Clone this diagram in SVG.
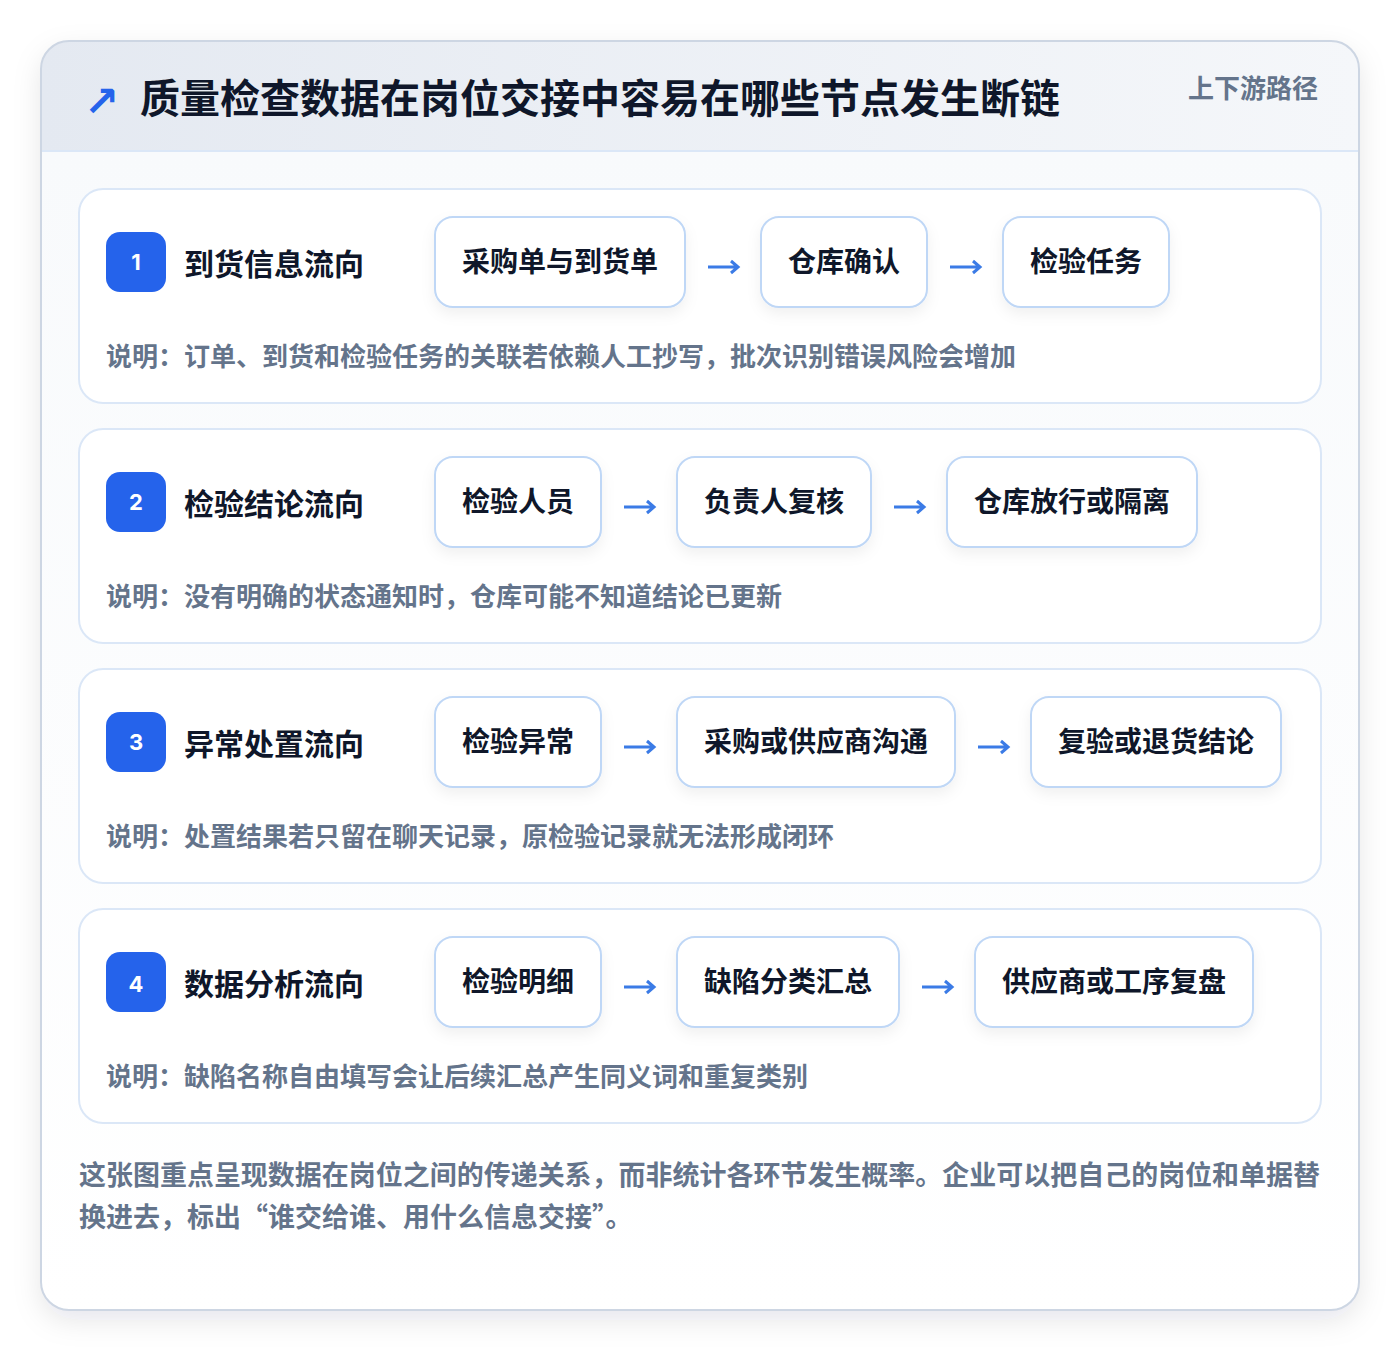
<svg xmlns="http://www.w3.org/2000/svg" width="1400" height="1352" viewBox="0 0 1400 1352">
<style>
.cjk{font-family:"Noto Sans CJK SC","Noto Sans",sans-serif;font-weight:700}
.title{font-size:40px;fill:#0f172a}
.tag{font-size:26px;fill:#64748b}
.sec{fill:#ffffff;stroke:#dbe7f7;stroke-width:2}
.badge{fill:#2563eb}
.num{font-family:"Inter","Liberation Sans",sans-serif;font-weight:700;font-size:22px;fill:#ffffff}
.lbl{font-size:30px;fill:#0f172a}
.node rect{fill:#ffffff;stroke:#bfd7f6;stroke-width:2}
.ntxt{font-size:28px;fill:#0f172a}
.note{font-size:26px;fill:#64748b}
.foot{font-size:27px;fill:#64748b}
.conn path{fill:none;stroke:#3b7be6;stroke-width:3;stroke-linecap:butt}
</style>
<defs>
<linearGradient id="hdr" x1="0" y1="0" x2="1" y2="0">
<stop offset="0" stop-color="#e4e9f1"/>
<stop offset="1" stop-color="#f5f7fa"/>
</linearGradient>
<linearGradient id="body" x1="0" y1="0" x2="0" y2="1">
<stop offset="0" stop-color="#f8fafc"/>
<stop offset="1" stop-color="#ffffff"/>
</linearGradient>
<clipPath id="cardclip"><rect x="41" y="41" width="1318" height="1269" rx="28"/></clipPath>
<filter id="cardsh" x="-10%" y="-10%" width="120%" height="120%">
<feDropShadow dx="0" dy="10" stdDeviation="14" flood-color="#0f172a" flood-opacity="0.10"/>
</filter>
<filter id="nodesh" x="-20%" y="-30%" width="140%" height="170%">
<feDropShadow dx="0" dy="6" stdDeviation="7" flood-color="#0f172a" flood-opacity="0.06"/>
</filter>
</defs>
<rect width="1400" height="1352" fill="#ffffff"/>
<g id="card">
<rect x="41" y="41" width="1318" height="1269" rx="28" fill="#fafbfd" filter="url(#cardsh)"/>
<g clip-path="url(#cardclip)">
<rect x="41" y="152" width="1318" height="1160" fill="url(#body)"/>
<rect x="41" y="41" width="1318" height="110" fill="url(#hdr)"/>
<line x1="41" y1="151" x2="1359" y2="151" stroke="#dbe7f7" stroke-width="2"/>
</g>
<rect x="41" y="41" width="1318" height="1269" rx="28" fill="none" stroke="#cdd6e3" stroke-width="2"/>
</g>
<g id="header">
<text x="84" y="116" font-family="DejaVu Sans,sans-serif" font-size="42" font-weight="700" fill="#2563eb">↗</text>
<text class="cjk title" x="140" y="113">质量检查数据在岗位交接中容易在哪些节点发生断链</text>
<text class="cjk tag" x="1318" y="98" text-anchor="end">上下游路径</text>
</g>

<g id="section1">
<rect class="sec" x="79" y="189" width="1242" height="214" rx="24"/>
<rect class="badge" x="106" y="232" width="60" height="60" rx="14"/>
<text class="num" x="136" y="270" text-anchor="middle">1</text>
<text class="cjk lbl" x="184" y="275">到货信息流向</text>
<text class="cjk note" x="106" y="366">说明：订单、到货和检验任务的关联若依赖人工抄写，批次识别错误风险会增加</text>
</g>
<g id="n1a" class="node"><rect x="435" y="217" width="250" height="90" rx="18" filter="url(#nodesh)"/><text class="cjk ntxt" x="560" y="272" text-anchor="middle">采购单与到货单</text></g>
<g id="n1b" class="node"><rect x="761" y="217" width="166" height="90" rx="18" filter="url(#nodesh)"/><text class="cjk ntxt" x="844" y="272" text-anchor="middle">仓库确认</text></g>
<g id="n1c" class="node"><rect x="1003" y="217" width="166" height="90" rx="18" filter="url(#nodesh)"/><text class="cjk ntxt" x="1086" y="272" text-anchor="middle">检验任务</text></g>

<g id="section2">
<rect class="sec" x="79" y="429" width="1242" height="214" rx="24"/>
<rect class="badge" x="106" y="472" width="60" height="60" rx="14"/>
<text class="num" x="136" y="510" text-anchor="middle">2</text>
<text class="cjk lbl" x="184" y="515">检验结论流向</text>
<text class="cjk note" x="106" y="606">说明：没有明确的状态通知时，仓库可能不知道结论已更新</text>
</g>
<g id="n2a" class="node"><rect x="435" y="457" width="166" height="90" rx="18" filter="url(#nodesh)"/><text class="cjk ntxt" x="518" y="512" text-anchor="middle">检验人员</text></g>
<g id="n2b" class="node"><rect x="677" y="457" width="194" height="90" rx="18" filter="url(#nodesh)"/><text class="cjk ntxt" x="774" y="512" text-anchor="middle">负责人复核</text></g>
<g id="n2c" class="node"><rect x="947" y="457" width="250" height="90" rx="18" filter="url(#nodesh)"/><text class="cjk ntxt" x="1072" y="512" text-anchor="middle">仓库放行或隔离</text></g>

<g id="section3">
<rect class="sec" x="79" y="669" width="1242" height="214" rx="24"/>
<rect class="badge" x="106" y="712" width="60" height="60" rx="14"/>
<text class="num" x="136" y="750" text-anchor="middle">3</text>
<text class="cjk lbl" x="184" y="755">异常处置流向</text>
<text class="cjk note" x="106" y="846">说明：处置结果若只留在聊天记录，原检验记录就无法形成闭环</text>
</g>
<g id="n3a" class="node"><rect x="435" y="697" width="166" height="90" rx="18" filter="url(#nodesh)"/><text class="cjk ntxt" x="518" y="752" text-anchor="middle">检验异常</text></g>
<g id="n3b" class="node"><rect x="677" y="697" width="278" height="90" rx="18" filter="url(#nodesh)"/><text class="cjk ntxt" x="816" y="752" text-anchor="middle">采购或供应商沟通</text></g>
<g id="n3c" class="node"><rect x="1031" y="697" width="250" height="90" rx="18" filter="url(#nodesh)"/><text class="cjk ntxt" x="1156" y="752" text-anchor="middle">复验或退货结论</text></g>

<g id="section4">
<rect class="sec" x="79" y="909" width="1242" height="214" rx="24"/>
<rect class="badge" x="106" y="952" width="60" height="60" rx="14"/>
<text class="num" x="136" y="992" text-anchor="middle">4</text>
<text class="cjk lbl" x="184" y="995">数据分析流向</text>
<text class="cjk note" x="106" y="1086">说明：缺陷名称自由填写会让后续汇总产生同义词和重复类别</text>
</g>
<g id="n4a" class="node"><rect x="435" y="937" width="166" height="90" rx="18" filter="url(#nodesh)"/><text class="cjk ntxt" x="518" y="992" text-anchor="middle">检验明细</text></g>
<g id="n4b" class="node"><rect x="677" y="937" width="222" height="90" rx="18" filter="url(#nodesh)"/><text class="cjk ntxt" x="788" y="992" text-anchor="middle">缺陷分类汇总</text></g>
<g id="n4c" class="node"><rect x="975" y="937" width="278" height="90" rx="18" filter="url(#nodesh)"/><text class="cjk ntxt" x="1114" y="992" text-anchor="middle">供应商或工序复盘</text></g>

<g id="connectors" class="conn">
<path d="M708 267H738M731 261L738 267L731 273"/>
<path d="M950 267H980M973 261L980 267L973 273"/>
<path d="M624 507H654M647 501L654 507L647 513"/>
<path d="M894 507H924M917 501L924 507L917 513"/>
<path d="M624 747H654M647 741L654 747L647 753"/>
<path d="M978 747H1008M1001 741L1008 747L1001 753"/>
<path d="M624 987H654M647 981L654 987L647 993"/>
<path d="M922 987H952M945 981L952 987L945 993"/>
</g>

<g id="footer">
<text class="cjk foot" x="79" y="1185" textLength="1241" lengthAdjust="spacingAndGlyphs">这张图重点呈现数据在岗位之间的传递关系，而非统计各环节发生概率。企业可以把自己的岗位和单据替</text>
<text class="cjk foot" x="79" y="1227">换进去，标出“谁交给谁、用什么信息交接”。</text>
</g>
</svg>
